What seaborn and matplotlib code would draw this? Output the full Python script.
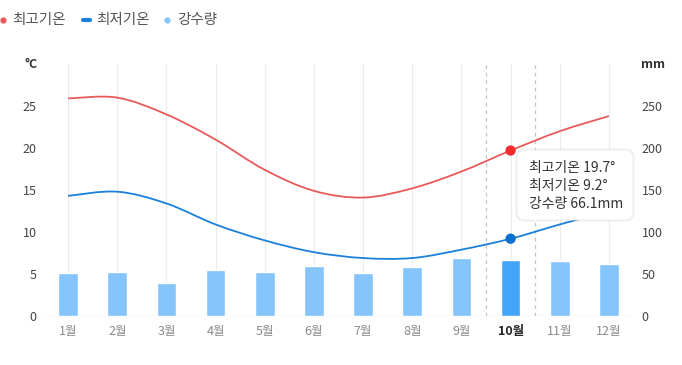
import matplotlib
matplotlib.use("Agg")
from matplotlib import pyplot as plt
from matplotlib.path import Path
from matplotlib.patches import PathPatch, FancyBboxPatch
from matplotlib.lines import Line2D
import seaborn as sns
import pandas as pd

months = ["1월", "2월", "3월", "4월", "5월", "6월", "7월", "8월", "9월", "10월", "11월", "12월"]
temp_max = [25.9, 26.0, 24.0, 21.0, 17.4, 14.9, 14.1, 15.2, 17.2, 19.7, 22.0, 23.8]
temp_min = [14.3, 14.8, 13.4, 10.9, 9.0, 7.6, 6.9, 6.9, 7.9, 9.2, 10.9, 12.5]
rain = [51.5, 52.5, 39.5, 55.0, 52.0, 59.0, 51.5, 58.5, 69.0, 66.1, 66.0, 62.5]
selected = 9  # 10월

C_MAX = "#e85a5a"
C_MAX_DOT = "#f22a30"
C_MIN = "#1a80d9"
C_MIN_DOT = "#0b6fce"
C_BAR = "#86c4fc"
C_BAR_SEL = "#42a5f8"

sns.set_theme(style="white")
plt.rcParams["font.family"] = ["Noto Sans CJK KR", "DejaVu Sans"]


def smooth_path(ys):
    # catmull-rom through the points, drawn as cubic bezier segments
    pts = list(enumerate(ys))
    verts = [pts[0]]
    codes = [Path.MOVETO]
    n = len(pts)
    for i in range(n - 1):
        p0 = pts[max(i - 1, 0)]
        p1 = pts[i]
        p2 = pts[i + 1]
        p3 = pts[min(i + 2, n - 1)]
        c1 = (p1[0] + (p2[0] - p0[0]) / 6, p1[1] + (p2[1] - p0[1]) / 6)
        c2 = (p2[0] - (p3[0] - p1[0]) / 6, p2[1] - (p3[1] - p1[1]) / 6)
        verts += [c1, c2, p2]
        codes += [Path.CURVE4] * 3
    return Path(verts, codes)


fig = plt.figure(figsize=(6.82, 3.65), dpi=100)
ax = fig.add_axes([43.5 / 682, 49 / 365, 590 / 682, 252 / 365])

df = pd.DataFrame({"month": months, "rain": rain})
palette = [C_BAR_SEL if i == selected else C_BAR for i in range(len(months))]
sns.barplot(data=df, x="month", y="rain", hue="month", palette=palette, saturation=1,
            legend=False, width=0.4, ax=ax, zorder=2)

ax.set_xlim(-0.5, len(months) - 0.5)
ax.set_ylim(0, 300)
ax.set_yticks(range(0, 300, 50))
ax.set_xlabel("")
ax.set_ylabel("")
ax.set_axisbelow(True)
ax.grid(axis="x", color="#ececec", lw=0.8)
ax.grid(axis="y", visible=False)
for s in ax.spines.values():
    s.set_visible(False)
ax.axhline(0, color="#dddddd", lw=1, zorder=1)
for xv in (selected - 0.5, selected + 0.5):
    ax.axvline(xv, color="#c4c4c4", lw=0.9, ls=(0, (3, 3)), zorder=1)

axt = ax.twinx()
axt.set_ylim(0, 30)
axt.set_yticks(range(0, 30, 5))
axt.yaxis.tick_left()
axt.tick_params(axis="y", length=0, pad=5, labelsize=9, labelcolor="#444444")
axt.grid(False)
for s in axt.spines.values():
    s.set_visible(False)

# twinx moves the host ticks to the left, so put them back
ax.yaxis.tick_right()
ax.tick_params(axis="y", length=0, pad=6, labelsize=9, labelcolor="#444444")
ax.tick_params(axis="x", length=0, pad=6.5, labelsize=9, labelcolor="#8a8a8a")
for i, lab in enumerate(ax.get_xticklabels()):
    if i == selected:
        lab.set_color("#222222")
        lab.set_fontweight("bold")

axt.add_patch(PathPatch(smooth_path(temp_max), fill=False, edgecolor=C_MAX, lw=1.3))
axt.add_patch(PathPatch(smooth_path(temp_min), fill=False, edgecolor=C_MIN, lw=1.3))
sns.scatterplot(x=[selected], y=[temp_max[selected]], color=C_MAX_DOT, s=55,
                edgecolor="none", ax=axt, zorder=5)
sns.scatterplot(x=[selected], y=[temp_min[selected]], color=C_MIN_DOT, s=55,
                edgecolor="none", ax=axt, zorder=5)

axt.text(-0.01, 1.0, "°C", transform=axt.transAxes, ha="right", va="center",
         fontsize=9, fontweight="bold", color="#333333")
axt.text(1.012, 1.0, "mm", transform=axt.transAxes, ha="left", va="center",
         fontsize=9, fontweight="bold", color="#333333")

# tooltip
inch = fig.dpi_scale_trans
shadow = FancyBboxPatch((5.155, 1.435), 1.19, 0.73, boxstyle="round,pad=0,rounding_size=0.09",
                        transform=inch, facecolor="#000000", alpha=0.06, edgecolor="none", zorder=10)
box = FancyBboxPatch((5.17, 1.45), 1.16, 0.70, boxstyle="round,pad=0,rounding_size=0.08",
                     transform=inch, facecolor="white", edgecolor="#eeeeee", lw=0.6, zorder=11)
fig.add_artist(shadow)
fig.add_artist(box)
tip = [f"최고기온 {temp_max[selected]}°", f"최저기온 {temp_min[selected]}°", f"강수량 {rain[selected]}mm"]
for k, line in enumerate(tip):
    fig.text(529 / 682, 1 - (168 + 18 * k) / 365, line, ha="left", va="center",
             fontsize=10, color="#333333", fontweight=500, zorder=12)

# legend
legend_items = [(3, 12, "최고기온", C_MAX, "o"), (86, 96, "최저기온", C_MIN, "_"), (167, 177, "강수량", C_BAR, "o")]
for mx, tx, label, col, mk in legend_items:
    y = 1 - 20 / 365
    if mk == "o":
        fig.add_artist(Line2D([mx / 682], [y], marker="o", markersize=3.5, color=col,
                              transform=fig.transFigure))
    else:
        fig.add_artist(Line2D([(mx - 3.5) / 682, (mx + 3.5) / 682], [y, y], lw=3, color=col,
                              solid_capstyle="round", transform=fig.transFigure))
    fig.text(tx / 682, y, label, ha="left", va="center", fontsize=10.5, color="#555555")

fig.savefig("out.png", dpi=100)
